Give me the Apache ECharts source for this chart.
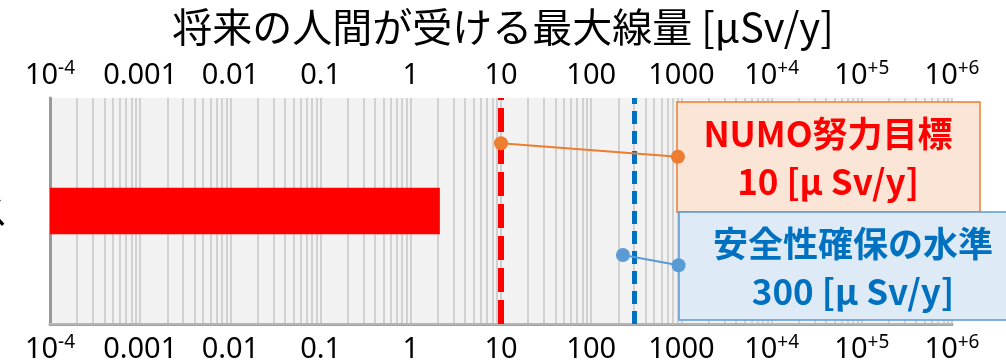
<!DOCTYPE html>
<html>
<head>
<meta charset="utf-8">
<style>
  html, body { margin: 0; padding: 0; background: #fff; }
  #chart { width: 1006px; height: 361px; }
</style>
<script src="https://cdn.jsdelivr.net/npm/echarts@6/dist/echarts.min.js"></script>
</head>
<body>
<div id="chart"></div>
<script>
// data
const categories = ['基本ケース']
const maxDose = [2.1]                 // μSv/y, bar end
const axisMin = 1e-4
const axisMax = 1e6
const tickLabels = ['10|-4', '0.001', '0.01', '0.1', '1', '10', '100', '1000', '10|+4', '10|+5', '10|+6']
const numoTarget = 10                 // NUMO努力目標
const safetyLevel = 300               // 安全性確保の水準
// callout leaders: [dose, height % of plot]
const numoLeader = [[10, 80], [915, 74]]
const safetyLeader = [[225, 30.5], [930, 26]]

const jp = 'Noto Sans CJK JP'
const num = 'Noto Sans'

function fmtTick(value) {
  const idx = Math.round(Math.log10(value)) + 4
  const t = tickLabels[idx]
  if (t == null) return ''
  if (t.indexOf('|') >= 0) {
    const p = t.split('|')
    return '{n|' + p[0] + '}{s|' + p[1] + '}'
  }
  return '{n|' + t + '}'
}

const labelStyle = {
  show: true,
  showMinLabel: true,
  showMaxLabel: true,
  hideOverlap: false,
  formatter: fmtTick,
  color: '#000',
  rich: {
    n: { fontSize: 29, fontFamily: num, color: '#000', lineHeight: 34 },
    s: { fontSize: 19, fontFamily: num, color: '#000', lineHeight: 34, verticalAlign: 'top', padding: [0, 0, 14, 0] }
  }
}

const chart = echarts.init(document.getElementById('chart'))

chart.setOption({
  animation: false,
  title: {
    text: '将来の人間が受ける最大線量 [μSv/y]',
    left: 'center',
    top: 2,
    textStyle: { fontFamily: jp, fontSize: 40, fontWeight: 'normal', color: '#000' }
  },
  grid: {
    left: 50,
    right: 54,
    top: 98,
    bottom: 37,
    show: true,
    backgroundColor: '#f2f2f2',
    borderWidth: 0,
    outerBoundsMode: 'none'
  },
  xAxis: [
    {
      type: 'log',
      logBase: 10,
      min: axisMin,
      max: axisMax,
      position: 'top',
      axisLine: { show: true, lineStyle: { color: '#a0a0a0', width: 3 } },
      axisTick: { show: false },
      minorTick: { show: false, splitNumber: 9 },
      axisLabel: Object.assign({ margin: 5 }, labelStyle),
      splitLine: { show: true, lineStyle: { color: '#c4c4c4', width: 1.5 } },
      minorSplitLine: { show: true, lineStyle: { color: '#c6c6c6', width: 1.5 } }
    },
    {
      type: 'log',
      logBase: 10,
      min: axisMin,
      max: axisMax,
      position: 'bottom',
      axisLine: { show: true, lineStyle: { color: '#bcbcbc', width: 1.5 } },
      axisTick: { show: false },
      axisLabel: Object.assign({ margin: 9 }, labelStyle),
      splitLine: { show: false }
    }
  ],
  yAxis: [
    {
      type: 'category',
      data: categories,
      axisLine: { show: true, lineStyle: { color: '#999999', width: 3 } },
      axisTick: { show: false },
      axisLabel: { margin: 42, fontSize: 36, fontFamily: jp, color: '#000' },
      splitLine: { show: false }
    },
    {
      type: 'value',
      min: 0,
      max: 100,
      show: false
    }
  ],
  graphic: [
    {
      type: 'group',
      z: 5,
      children: [
        {
          type: 'rect',
          z: 5,
          shape: { x: 677, y: 102, width: 303, height: 110 },
          style: { fill: '#fbe5d6', stroke: '#ed7d31', lineWidth: 1.5 }
        },
        {
          type: 'text',
          z: 6,
          x: 828, y: 158,
          style: {
            text: 'NUMO努力目標\n10 [μ Sv/y]',
            fill: '#ff0000',
            font: 'bold 35px "Noto Sans CJK JP"',
            lineHeight: 48,
            align: 'center',
            verticalAlign: 'middle'
          }
        },
        {
          type: 'rect',
          z: 5,
          shape: { x: 679, y: 212, width: 350, height: 108 },
          style: { fill: '#deebf7', stroke: '#5b9bd5', lineWidth: 1.5 }
        },
        {
          type: 'text',
          z: 6,
          x: 853, y: 268,
          style: {
            text: '安全性確保の水準\n300 [μ Sv/y]',
            fill: '#0070c0',
            font: 'bold 35px "Noto Sans CJK JP"',
            lineHeight: 48,
            align: 'center',
            verticalAlign: 'middle'
          }
        }
      ]
    }
  ],
  series: [
    {
      name: '最大線量',
      type: 'custom',
      xAxisIndex: 1,
      yAxisIndex: 0,
      z: 3,
      data: categories.map((c, i) => [maxDose[i], i]),
      encode: { x: 0, y: 1 },
      renderItem(params, api) {
        const start = api.coord([axisMin, api.value(1)])
        const end = api.coord([api.value(0), api.value(1)])
        const h = api.size([0, 1])[1] * 0.205
        return {
          type: 'rect',
          shape: { x: start[0], y: start[1] - h / 2, width: end[0] - start[0], height: h },
          style: { fill: '#ff0000' }
        }
      }
    },
    {
      name: 'NUMO努力目標',
      type: 'line',
      xAxisIndex: 1,
      yAxisIndex: 1,
      z: 10,
      data: numoLeader,
      symbol: 'circle',
      symbolSize: 14,
      itemStyle: { color: '#ed7d31' },
      lineStyle: { color: '#ed7d31', width: 2 },
      markLine: {
        silent: true,
        symbol: 'none',
        label: { show: false },
        lineStyle: { color: '#ff0000', width: 6, type: [24, 8] },
        data: [{ xAxis: numoTarget }]
      }
    },
    {
      name: '安全性確保の水準',
      type: 'line',
      xAxisIndex: 1,
      yAxisIndex: 1,
      z: 10,
      data: safetyLeader,
      symbol: 'circle',
      symbolSize: 14,
      itemStyle: { color: '#5b9bd5' },
      lineStyle: { color: '#5b9bd5', width: 2 },
      markLine: {
        silent: true,
        symbol: 'none',
        label: { show: false },
        lineStyle: { color: '#0070c0', width: 5, type: [13, 7] },
        data: [{ xAxis: safetyLevel }]
      }
    }
  ]
})
</script>
</body>
</html>
